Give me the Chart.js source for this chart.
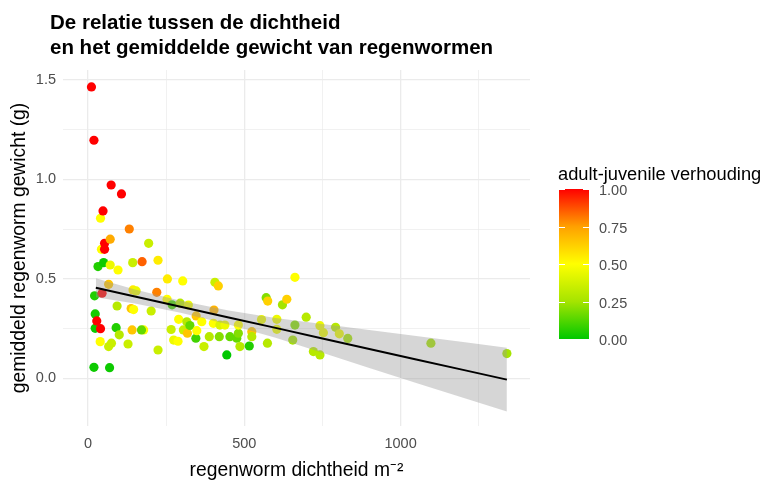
<!DOCTYPE html>
<html lang="nl">
<head>
<meta charset="utf-8">
<title>Regenwormen: dichtheid en gewicht</title>
<script src="https://cdn.jsdelivr.net/npm/chart.js@4.4.1/dist/chart.umd.min.js"></script>
<style>
  html, body { margin: 0; padding: 0; background: #fff; }
</style>
</head>
<body>
<canvas id="wormen" width="767" height="484"></canvas>
<script>
// Monsterpunten: dichtheid (per m2), gemiddeld gewicht (g) en adult-juvenile verhouding
const dichtheid = [11, 19, 19, 21, 23, 23, 28, 32, 39, 40, 40, 43, 45, 48, 50, 53, 53, 66, 66, 69,
    71, 71, 74, 75, 90, 93, 96, 100, 107, 128, 132, 138, 141, 143, 144, 146, 154, 178, 171, 173,
    194, 202, 220, 224, 224, 253, 254, 266, 269, 274, 288, 290, 295, 303, 305, 316, 318, 321, 326, 345,
    346, 348, 364, 371, 388, 401, 403, 406, 417, 420, 422, 438, 444, 454, 476, 481, 481, 486, 516, 524,
    524, 555, 570, 574, 575, 604, 604, 622, 636, 655, 662, 662, 698, 721, 742, 742, 753, 792, 804, 831,
    1097, 1340];
const gewicht = [1.465, 1.197, 0.056, 0.415, 0.324, 0.252, 0.289, 0.562, 0.185, 0.805, 0.25, 0.649, 0.428, 0.842, 0.582, 0.679, 0.649, 0.473, 0.16, 0.054,
    0.70, 0.57, 0.972, 0.177, 0.255, 0.364, 0.545, 0.219, 0.927, 0.173, 0.751, 0.351, 0.244, 0.582, 0.445, 0.346, 0.44, 0.244, 0.244, 0.587,
    0.679, 0.339, 0.433, 0.594, 0.143, 0.398, 0.50, 0.246, 0.37, 0.193, 0.187, 0.297, 0.378, 0.49, 0.244, 0.285, 0.227, 0.369, 0.266, 0.202,
    0.314, 0.24, 0.285, 0.16, 0.21, 0.277, 0.344, 0.483, 0.465, 0.21, 0.268, 0.268, 0.118, 0.21, 0.202, 0.227, 0.268, 0.16, 0.163, 0.235,
    0.21, 0.296, 0.406, 0.177, 0.389, 0.297, 0.247, 0.37, 0.398, 0.193, 0.508, 0.268, 0.308, 0.135, 0.265, 0.118, 0.23, 0.257, 0.224, 0.201,
    0.177, 0.125];
const verhouding = [1.0, 1.0, 0.02, 0.05, 0.03, 0.02, 1.0, 0.05, 0.5, 0.5, 1.0, 0.5, 1.0, 1.0, 0.02, 1.0, 1.0, 0.65, 0.35, 0.02,
    0.72, 0.45, 1.0, 0.35, 0.05, 0.3, 0.5, 0.3, 1.0, 0.35, 0.8, 0.65, 0.65, 0.35, 0.55, 0.5, 0.45, 0.5, 0.15, 0.85,
    0.35, 0.35, 0.8, 0.55, 0.35, 0.5, 0.55, 0.35, 0.1, 0.45, 0.5, 0.5, 0.3, 0.5, 0.35, 0.3, 0.65, 0.45, 0.15, 0.1,
    0.65, 0.5, 0.5, 0.35, 0.3, 0.5, 0.7, 0.35, 0.62, 0.2, 0.4, 0.45, 0.0, 0.15, 0.15, 0.2, 0.5, 0.3, 0.05, 0.65,
    0.3, 0.45, 0.2, 0.3, 0.62, 0.45, 0.45, 0.25, 0.62, 0.25, 0.5, 0.2, 0.3, 0.3, 0.45, 0.3, 0.45, 0.3, 0.45, 0.25,
    0.25, 0.25];

// Lineaire fit met betrouwbaarheidsband
const fitX = [25, 150, 300, 450, 600, 750, 900, 1050, 1200, 1340];
const fitY = [0.456, 0.412, 0.359, 0.306, 0.254, 0.201, 0.148, 0.095, 0.043, -0.006];
const bandBoven = [0.504, 0.447, 0.389, 0.341, 0.304, 0.273, 0.243, 0.213, 0.183, 0.154];
const bandOnder = [0.408, 0.377, 0.329, 0.271, 0.204, 0.129, 0.053, -0.023, -0.097, -0.166];

// Assen en legenda
const xTicks = [0, 250, 500, 750, 1000, 1250];
const yTicks = [0, 0.25, 0.5, 0.75, 1, 1.25, 1.5];
const legendaTicks = [0, 0.25, 0.5, 0.75, 1];

const FONT = '"Liberation Sans", Arial, sans-serif';

// groen -> geel -> rood
const kleurStops = [
    [0, [0, 200, 0]],
    [0.25, [165, 228, 0]],
    [0.5, [255, 255, 0]],
    [0.75, [255, 160, 0]],
    [1, [255, 0, 0]]
];

function kleur(v) {
    for (let i = 1; i < kleurStops.length; i++) {
        const [p1, c1] = kleurStops[i];
        const [p0, c0] = kleurStops[i - 1];
        if (v <= p1) {
            const t = (v - p0) / (p1 - p0);
            const c = c0.map((k, j) => Math.round(k + (c1[j] - k) * t));
            return `rgb(${c[0]}, ${c[1]}, ${c[2]})`;
        }
    }
    return 'rgb(255, 0, 0)';
}

const punten = dichtheid.map((x, i) => ({ x: x, y: gewicht[i] }));
const puntKleuren = verhouding.map(kleur);

// titel linksboven
const titelPlugin = {
    id: 'titel',
    afterDraw(chart) {
        const ctx = chart.ctx;
        ctx.save();
        ctx.fillStyle = '#000';
        ctx.font = 'bold 20.5px ' + FONT;
        ctx.textBaseline = 'alphabetic';
        ctx.fillText('De relatie tussen de dichtheid', 50, 29);
        ctx.fillText('en het gemiddelde gewicht van regenwormen', 50, 54);
        ctx.restore();
    }
};

// kleurenbalk voor de verhouding
const kleurLegenda = {
    id: 'kleurLegenda',
    afterDraw(chart) {
        const ctx = chart.ctx;
        const x = 559, top = 189, w = 30, h = 150;
        ctx.save();
        ctx.fillStyle = '#000';
        ctx.font = '18.3px ' + FONT;
        ctx.textBaseline = 'alphabetic';
        ctx.fillText('adult-juvenile verhouding', 558, 180);

        const grad = ctx.createLinearGradient(0, top + h, 0, top);
        kleurStops.forEach(([p, c]) => grad.addColorStop(p, `rgb(${c[0]}, ${c[1]}, ${c[2]})`));
        ctx.fillStyle = grad;
        ctx.fillRect(x, top, w, h);

        ctx.strokeStyle = '#fff';
        ctx.lineWidth = 1;
        ctx.font = '14.5px ' + FONT;
        ctx.textBaseline = 'middle';
        legendaTicks.forEach(v => {
            const y = Math.round(top + h - v * h) + 0.5;
            ctx.beginPath();
            ctx.moveTo(x, y); ctx.lineTo(x + 6, y);
            ctx.moveTo(x + w - 6, y); ctx.lineTo(x + w, y);
            ctx.stroke();
            ctx.fillStyle = '#4d4d4d';
            ctx.fillText(v.toFixed(2), 599, y + 1.5);
        });
        ctx.restore();
    }
};

const isHoofd = (v, stap) => Math.abs(v / stap - Math.round(v / stap)) < 1e-9;

new Chart(document.getElementById('wormen'), {
    type: 'scatter',
    data: {
        datasets: [{
            data: punten,
            backgroundColor: puntKleuren,
            borderWidth: 0,
            pointRadius: 4.6,
            order: 4
        }, {
            type: 'line',
            data: fitX.map((x, i) => ({ x: x, y: bandBoven[i] })),
            borderColor: 'rgba(0,0,0,0)',
            borderWidth: 0,
            pointRadius: 0,
            fill: false,
            order: 3
        }, {
            type: 'line',
            data: fitX.map((x, i) => ({ x: x, y: bandOnder[i] })),
            borderColor: 'rgba(0,0,0,0)',
            borderWidth: 0,
            pointRadius: 0,
            backgroundColor: 'rgba(153, 153, 153, 0.4)',
            fill: 1,
            order: 2
        }, {
            type: 'line',
            data: fitX.map((x, i) => ({ x: x, y: fitY[i] })),
            borderColor: '#000',
            borderWidth: 2,
            pointRadius: 0,
            fill: false,
            order: 1
        }]
    },
    options: {
        responsive: false,
        animation: false,
        devicePixelRatio: 1,
        layout: { padding: { top: 70, right: 237, left: 0, bottom: 0 } },
        plugins: {
            legend: { display: false },
            tooltip: { enabled: false }
        },
        scales: {
            x: {
                type: 'linear',
                min: -80,
                max: 1414,
                afterBuildTicks: scale => { scale.ticks = xTicks.map(v => ({ value: v })); },
                afterFit: scale => { scale.height = 58; },
                grid: {
                    color: '#ebebeb',
                    lineWidth: ctx => (ctx.tick && isHoofd(ctx.tick.value, 500)) ? 1.3 : 0.7,
                    drawTicks: false
                },
                border: { display: false },
                ticks: {
                    padding: 9,
                    maxRotation: 0,
                    autoSkip: false,
                    color: '#4d4d4d',
                    font: { family: FONT, size: 14.5 },
                    callback: v => isHoofd(v, 500) ? String(v) : ''
                },
                title: {
                    display: true,
                    text: 'regenworm dichtheid m\u207B\u00B2',
                    color: '#000',
                    font: { family: FONT, size: 19.3 },
                    padding: { top: 0, bottom: 2 }
                }
            },
            y: {
                type: 'linear',
                min: -0.239,
                max: 1.55,
                afterBuildTicks: scale => { scale.ticks = yTicks.map(v => ({ value: v })); },
                afterFit: scale => { scale.width = 63; },
                grid: {
                    color: '#ebebeb',
                    lineWidth: ctx => (ctx.tick && isHoofd(ctx.tick.value, 0.5)) ? 1.3 : 0.7,
                    drawTicks: false
                },
                border: { display: false },
                ticks: {
                    padding: 7,
                    autoSkip: false,
                    color: '#4d4d4d',
                    font: { family: FONT, size: 14.5 },
                    callback: v => isHoofd(v, 0.5) ? v.toFixed(1) : ''
                },
                title: {
                    display: true,
                    text: 'gemiddeld regenworm gewicht (g)',
                    color: '#000',
                    font: { family: FONT, size: 19.3 },
                    padding: { top: 8, bottom: 0 }
                }
            }
        }
    },
    plugins: [titelPlugin, kleurLegenda]
});
</script>
</body>
</html>
